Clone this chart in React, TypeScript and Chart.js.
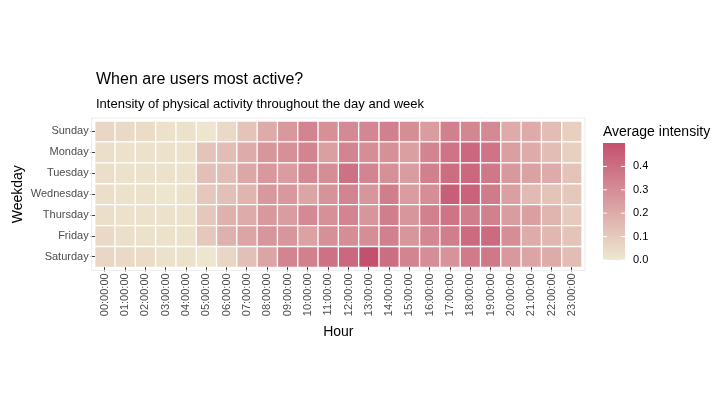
import { Chart, registerables } from "chart.js";
import { useEffect, useRef } from "react";

Chart.register(...registerables);

const hours = Array.from({ length: 24 }, (_, i) => `${String(i).padStart(2, "0")}:00:00`);
const weekdays = ["Sunday", "Monday", "Tuesday", "Wednesday", "Thursday", "Friday", "Saturday"];

const sunday = [0.06, 0.05, 0.04, 0.02, 0.02, 0.01, 0.05, 0.12, 0.2, 0.26, 0.33, 0.29, 0.31, 0.32, 0.34, 0.3, 0.25, 0.34, 0.32, 0.31, 0.2, 0.2, 0.14, 0.08];
const monday = [0.03, 0.02, 0.02, 0.02, 0.02, 0.12, 0.14, 0.2, 0.27, 0.29, 0.33, 0.24, 0.33, 0.3, 0.29, 0.24, 0.33, 0.38, 0.42, 0.38, 0.24, 0.2, 0.14, 0.08];
const tuesday = [0.03, 0.02, 0.02, 0.02, 0.02, 0.13, 0.14, 0.21, 0.26, 0.25, 0.31, 0.3, 0.39, 0.33, 0.29, 0.25, 0.34, 0.4, 0.42, 0.37, 0.26, 0.23, 0.2, 0.12];
const wednesday = [0.03, 0.02, 0.02, 0.01, 0.02, 0.11, 0.13, 0.17, 0.26, 0.26, 0.22, 0.28, 0.33, 0.27, 0.35, 0.25, 0.3, 0.45, 0.44, 0.36, 0.24, 0.15, 0.12, 0.11];
const thursday = [0.03, 0.02, 0.02, 0.02, 0.02, 0.11, 0.18, 0.2, 0.26, 0.25, 0.31, 0.29, 0.33, 0.27, 0.35, 0.27, 0.34, 0.38, 0.35, 0.34, 0.25, 0.24, 0.17, 0.1];
const friday = [0.05, 0.03, 0.02, 0.02, 0.02, 0.11, 0.18, 0.22, 0.27, 0.27, 0.23, 0.29, 0.3, 0.3, 0.34, 0.27, 0.32, 0.35, 0.41, 0.41, 0.3, 0.2, 0.16, 0.12];
const saturday = [0.06, 0.05, 0.04, 0.02, 0.02, 0.01, 0.06, 0.13, 0.22, 0.33, 0.34, 0.39, 0.42, 0.5, 0.4, 0.33, 0.3, 0.28, 0.36, 0.37, 0.26, 0.22, 0.2, 0.14];

const intensity = [sunday, monday, tuesday, wednesday, thursday, friday, saturday];
const legendTicks = [0, 0.1, 0.2, 0.3, 0.4];
const maxValue = 0.5;

const low = [238, 232, 208];
const high = [196, 80, 111];

function colorFor(v: number) {
  const t = Math.min(1, Math.max(0, v / maxValue));
  const c = low.map((l, i) => Math.round(l + (high[i] - l) * t));
  return `rgb(${c[0]},${c[1]},${c[2]})`;
}

const extras = {
  id: "extras",
  afterDraw(chart: Chart) {
    const { ctx, chartArea: a } = chart;
    ctx.save();
    ctx.strokeStyle = "#EBEBEB";
    ctx.lineWidth = 1;
    ctx.strokeRect(a.left - 3, a.top - 3, a.right - a.left + 6, a.bottom - a.top + 6);
    ctx.fillStyle = "#000";
    ctx.textAlign = "left";
    ctx.textBaseline = "alphabetic";
    ctx.font = "16px 'Liberation Sans', Arial";
    ctx.fillText("When are users most active?", 96, 84);
    ctx.font = "13px 'Liberation Sans', Arial";
    ctx.fillText("Intensity of physical activity throughout the day and week", 96, 108);

    // colour legend
    const lx = 603, lw = 22, top = 143, bottom = 260;
    const g = ctx.createLinearGradient(0, bottom, 0, top);
    g.addColorStop(0, colorFor(0));
    g.addColorStop(1, colorFor(maxValue));
    ctx.fillStyle = g;
    ctx.fillRect(lx, top, lw, bottom - top);
    ctx.fillStyle = "#000";
    ctx.font = "14px 'Liberation Sans', Arial";
    ctx.fillText("Average intensity", 603, 136);
    ctx.font = "11px 'Liberation Sans', Arial";
    ctx.textBaseline = "middle";
    ctx.strokeStyle = "#fff";
    legendTicks.forEach((v) => {
      const y = bottom - ((bottom - top) * v) / maxValue;
      ctx.beginPath();
      ctx.moveTo(lx, y); ctx.lineTo(lx + 4, y);
      ctx.moveTo(lx + lw - 4, y); ctx.lineTo(lx + lw, y);
      ctx.stroke();
      ctx.fillText(v.toFixed(1), 633, y);
    });
    ctx.restore();
  },
};

export default function App() {
  const canvasRef = useRef<HTMLCanvasElement>(null);

  useEffect(() => {
    document.body.style.margin = "0";
    if (!canvasRef.current) return undefined;
    const n = weekdays.length;
    const datasets = weekdays
      .map((day, i) => ({
        label: day,
        data: hours.map(() => 1),
        backgroundColor: intensity[i].map(colorFor),
        borderColor: "#fff",
        borderWidth: 1,
        borderSkipped: false as const,
        barPercentage: 1,
        categoryPercentage: 1,
      }))
      .reverse();
    const tickFont = { family: "'Liberation Sans', Arial", size: 11 };
    const chart = new Chart(canvasRef.current, {
      type: "bar",
      data: { labels: hours, datasets },
      options: {
        animation: false,
        responsive: false,
        layout: { padding: { top: 121, right: 146, bottom: 66, left: 8 } },
        plugins: { legend: { display: false }, tooltip: { enabled: false } },
        scales: {
          x: {
            stacked: true,
            offset: true,
            grid: { display: true, drawOnChartArea: false, tickLength: 4, color: "#333", offset: false },
            border: { display: false },
            ticks: { color: "#4D4D4D", font: tickFont, maxRotation: 90, minRotation: 90, autoSkip: false, padding: 2 },
            title: { display: true, text: "Hour", color: "#000", font: { family: "'Liberation Sans', Arial", size: 14 }, padding: { top: 6, bottom: 0 } },
          },
          y: {
            stacked: true,
            min: 0,
            max: n,
            afterBuildTicks: (s: any) => {
              s.ticks = weekdays.map((_, i) => ({ value: i + 0.5 }));
            },
            grid: { display: true, drawOnChartArea: false, tickLength: 4, color: "#333" },
            border: { display: false },
            ticks: {
              color: "#4D4D4D",
              font: tickFont,
              padding: 2,
              callback: (v: any) => weekdays[n - 1 - Math.floor(Number(v))],
            },
            title: { display: true, text: "Weekday", color: "#000", font: { family: "'Liberation Sans', Arial", size: 14 }, padding: 2 },
          },
        },
      },
      plugins: [extras],
    });
    return () => chart.destroy();
  }, []);

  return <canvas ref={canvasRef} width={728} height={407} />;
}
